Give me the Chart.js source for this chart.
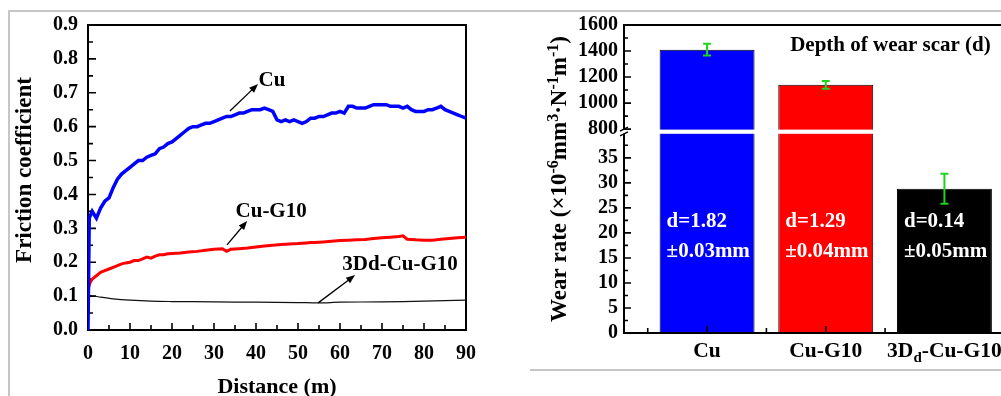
<!DOCTYPE html>
<html>
<head>
<meta charset="utf-8">
<script src="https://cdn.jsdelivr.net/npm/chart.js@4.4.1/dist/chart.umd.min.js"></script>
<style>
html, body { margin: 0; padding: 0; background: #fff; overflow: hidden; width: 1001px; height: 396px; }
canvas { position: absolute; top: 0; }
#friction { left: 0; }
#wear { left: 500px; }
.frame { position: absolute; background: #c6c6c6; }
</style>
</head>
<body>
<div class="frame" style="left:8px;top:10px;width:993px;height:2px"></div>
<div class="frame" style="left:8px;top:10px;width:2px;height:386px"></div>
<div class="frame" style="left:530px;top:369px;width:471px;height:2px"></div>
<canvas id="friction" width="500" height="396"></canvas>
<canvas id="wear" width="560" height="396"></canvas>
<script>
// ---- friction coefficient vs distance
let cuDist = [0, 0.3,
	1, 2, 3, 4, 5, 6, 7, 8, 9, 10,
	11, 12, 13, 14, 15, 16, 17, 18, 19, 20,
	21, 22, 23, 24, 25, 26, 27, 28, 29, 30,
	31, 32, 33, 34, 35, 36, 37, 38, 39, 40,
	41, 42, 43, 44, 45, 46, 47, 48, 49, 50,
	51, 52, 53, 54, 55, 56, 57, 58, 59, 60,
	61, 62, 63, 64, 65, 66, 67, 68, 69, 70,
	71, 72, 73, 74, 75, 76, 77, 78, 79, 80,
	81, 82, 83, 84, 85, 86, 87, 88, 89, 90];
let cuMu = [0.00, 0.33,
	0.35, 0.33, 0.36, 0.38, 0.39, 0.42, 0.445, 0.46, 0.47, 0.48,
	0.49, 0.50, 0.50, 0.51, 0.515, 0.52, 0.535, 0.54, 0.55, 0.555,
	0.565, 0.575, 0.585, 0.595, 0.60, 0.60, 0.605, 0.61, 0.61, 0.615,
	0.62, 0.625, 0.63, 0.63, 0.635, 0.64, 0.64, 0.645, 0.65, 0.65,
	0.65, 0.655, 0.65, 0.645, 0.62, 0.615, 0.62, 0.615, 0.62, 0.615,
	0.61, 0.615, 0.625, 0.625, 0.63, 0.63, 0.635, 0.64, 0.64, 0.645,
	0.64, 0.66, 0.66, 0.655, 0.655, 0.655, 0.66, 0.665, 0.665, 0.665,
	0.665, 0.66, 0.66, 0.66, 0.655, 0.66, 0.65, 0.645, 0.645, 0.645,
	0.65, 0.65, 0.655, 0.66, 0.65, 0.645, 0.64, 0.635, 0.63, 0.625];

let g10Dist = [0, 0.5, 1, 2, 3, 4, 5, 6, 7, 8, 9, 10, 11, 12, 13, 14, 15, 16, 17, 18, 19, 20,
	22, 24, 26, 28, 30, 32, 33, 34, 36, 38, 40, 42, 44, 46, 48, 50, 52, 53, 54,
	56, 58, 60, 62, 64, 66, 68, 70, 72, 74, 75, 76, 78, 80, 82, 84, 86, 88, 90];
let g10Mu = [0.12, 0.14, 0.15, 0.16, 0.17, 0.175, 0.18, 0.185, 0.19, 0.195, 0.198, 0.20, 0.205, 0.205, 0.21, 0.215, 0.212, 0.218, 0.222, 0.222, 0.225, 0.226,
	0.227, 0.23, 0.232, 0.235, 0.238, 0.24, 0.232, 0.238, 0.24, 0.242, 0.245, 0.248, 0.25, 0.252, 0.254, 0.255, 0.257, 0.258, 0.258,
	0.26, 0.262, 0.264, 0.265, 0.266, 0.267, 0.27, 0.272, 0.274, 0.276, 0.278, 0.268, 0.266, 0.265, 0.265, 0.268, 0.27, 0.272, 0.274];

let dDist = [0, 3, 6, 10, 15, 20, 30, 40, 50, 55, 60, 70, 80, 90];
let dMu = [0.103, 0.097, 0.092, 0.088, 0.085, 0.084, 0.083, 0.082, 0.081, 0.080, 0.082, 0.083, 0.085, 0.088];

let seriesNames = ['Cu', 'Cu-G10', '3Dd-Cu-G10'];

// ---- wear rate bars
let categories = ['Cu', 'Cu-G10', '3D_{d}-Cu-G10'];
let wearRate = [1410, 1140, 28.8];
let wearErr = [45, 30, 3];
let depthText = ['d=1.82', 'd=1.29', 'd=0.14'];
let depthErrText = ['±0.03mm', '±0.04mm', '±0.05mm'];
let lowTicks = [0, 5, 10, 15, 20, 25, 30, 35];
let highTicks = [800, 1000, 1200, 1400, 1600];
let breakLow = 40;
let breakHigh = 800;

const SERIF = '"Liberation Serif", "Times New Roman", serif';
const bold = (s) => ({family: SERIF, size: s, weight: 'bold'});

function parseRich(s) {
	let parts = [];
	let re = /([\^_])\{([^}]*)\}/g;
	let last = 0;
	let m;
	while ((m = re.exec(s))) {
		if (m.index > last) parts.push([s.slice(last, m.index), 0]);
		parts.push([m[2], m[1] === '^' ? 1 : -1]);
		last = re.lastIndex;
	}
	if (last < s.length) parts.push([s.slice(last), 0]);
	return parts;
}

// draws text with ^{sup} and _{sub} pieces, baseline at y
function drawRich(ctx, text, x, y, size, align) {
	let parts = parseRich(text);
	let small = Math.round(size * 0.7);
	let width = 0;
	for (let [t, k] of parts) {
		ctx.font = `bold ${k ? small : size}px ${SERIF}`;
		width += ctx.measureText(t).width;
	}
	let cx = align === 'center' ? x - width / 2 : x;
	ctx.textAlign = 'left';
	ctx.textBaseline = 'alphabetic';
	for (let [t, k] of parts) {
		ctx.font = `bold ${k ? small : size}px ${SERIF}`;
		let dy = k > 0 ? size * 0.36 : k < 0 ? -size * 0.25 : 0;
		ctx.fillText(t, cx, y - dy);
		cx += ctx.measureText(t).width;
	}
}

function arrow(ctx, x1, y1, x2, y2) {
	let ang = Math.atan2(y2 - y1, x2 - x1);
	ctx.beginPath();
	ctx.moveTo(x1, y1);
	ctx.lineTo(x2 - 6 * Math.cos(ang), y2 - 6 * Math.sin(ang));
	ctx.stroke();
	ctx.beginPath();
	ctx.moveTo(x2, y2);
	ctx.lineTo(x2 - 9 * Math.cos(ang) + 3.5 * Math.sin(ang), y2 - 9 * Math.sin(ang) - 3.5 * Math.cos(ang));
	ctx.lineTo(x2 - 9 * Math.cos(ang) - 3.5 * Math.sin(ang), y2 - 9 * Math.sin(ang) + 3.5 * Math.cos(ang));
	ctx.closePath();
	ctx.fill();
}

// label centre, arrow start, arrow tip (data units)
let notes = [
	{at: [43.8, 0.737], from: [33.8, 0.646], to: [40.5, 0.726]},
	{at: [43.6, 0.348], from: [33.1, 0.251], to: [37.9, 0.322]},
	{at: [74.3, 0.192], from: [54.8, 0.080], to: [63.6, 0.162]}
];

let frictionDecor = {
	id: 'frictionDecor',
	beforeDatasetsDraw(chart) {
		let {ctx, chartArea: a, scales: {x, y}} = chart;
		ctx.save();
		ctx.strokeStyle = '#000';
		ctx.lineWidth = 2;
		ctx.strokeRect(a.left, a.top, a.right - a.left, a.bottom - a.top);
		ctx.lineWidth = 1.6;
		ctx.beginPath();
		for (let i = 0; i <= 18; i++) {
			let py = y.getPixelForValue(i * 0.05);
			ctx.moveTo(a.left, py);
			ctx.lineTo(a.left + (i % 2 ? 5 : 8), py);
			let px = x.getPixelForValue(i * 5);
			ctx.moveTo(px, a.bottom);
			ctx.lineTo(px, a.bottom - (i % 2 ? 5 : 7));
		}
		ctx.stroke();
		ctx.restore();
	},
	afterDatasetsDraw(chart) {
		let {ctx, scales: {x, y}} = chart;
		ctx.save();
		ctx.strokeStyle = '#000';
		ctx.fillStyle = '#000';
		ctx.lineWidth = 1.3;
		notes.forEach((n, i) => {
			arrow(ctx, x.getPixelForValue(n.from[0]), y.getPixelForValue(n.from[1]),
				x.getPixelForValue(n.to[0]), y.getPixelForValue(n.to[1]));
			ctx.font = `bold 21px ${SERIF}`;
			ctx.textAlign = 'center';
			ctx.textBaseline = 'middle';
			ctx.fillText(seriesNames[i], x.getPixelForValue(n.at[0]), y.getPixelForValue(n.at[1]));
		});
		// y title
		ctx.translate(25, 170);
		ctx.rotate(-Math.PI / 2);
		ctx.font = `bold 23px ${SERIF}`;
		ctx.textAlign = 'center';
		ctx.textBaseline = 'middle';
		ctx.fillText('Friction coefficient', 0, 0);
		ctx.restore();
	}
};

new Chart(document.getElementById('friction'), {
	type: 'line',
	data: {
		datasets: [
			{label: seriesNames[0], data: cuDist.map((d, i) => ({x: d, y: cuMu[i]})),
				borderColor: '#0000ff', borderWidth: 3.5, pointRadius: 0, tension: 0},
			{label: seriesNames[1], data: g10Dist.map((d, i) => ({x: d, y: g10Mu[i]})),
				borderColor: '#ff0000', borderWidth: 3, pointRadius: 0, tension: 0},
			{label: seriesNames[2], data: dDist.map((d, i) => ({x: d, y: dMu[i]})),
				borderColor: '#111', borderWidth: 1.2, pointRadius: 0, tension: 0.3}
		]
	},
	options: {
		responsive: false,
		animation: false,
		devicePixelRatio: 1,
		layout: {padding: {top: 25, right: 34, left: 0, bottom: 0}},
		plugins: {legend: {display: false}, tooltip: {enabled: false}},
		scales: {
			x: {
				type: 'linear', min: 0, max: 90,
				afterFit: (s) => { s.height = 66; },
				grid: {display: false, drawTicks: false},
				border: {display: false},
				ticks: {stepSize: 10, padding: 12, color: '#000', font: bold(20)},
				title: {display: true, text: 'Distance (m)', color: '#000', padding: 0,
					font: {family: SERIF, size: 22, weight: 'bold', lineHeight: 0.75}}
			},
			y: {
				min: 0, max: 0.9,
				afterFit: (s) => { s.width = 88; },
				grid: {display: false, drawTicks: false},
				border: {display: false},
				ticks: {stepSize: 0.1, padding: 10, color: '#000', font: bold(20),
					callback: (v) => v.toFixed(1)}
			}
		}
	},
	plugins: [frictionDecor]
});

// ---- broken value axis: 0..40 below the break, 800..1600 above it
class BrokenScale extends Chart.LinearScale {
	buildTicks() {
		return lowTicks.concat(highTicks).map((v) => ({value: v}));
	}
	getPixelForValue(v) {
		let h = this.bottom - this.top;
		let lowH = h * 0.65;
		let highH = h * 0.338;
		let max = this.max;
		if (v <= breakLow) return this.bottom - v / breakLow * lowH;
		if (v >= breakHigh) return this.top + (max - v) / (max - breakHigh) * highH;
		return this.bottom - lowH - (v - breakLow) / (breakHigh - breakLow) * (h - lowH - highH);
	}
	getValueForPixel(p) {
		let h = this.bottom - this.top;
		let lowH = h * 0.65;
		if (p >= this.bottom - lowH) return (this.bottom - p) / lowH * breakLow;
		return this.max - (p - this.top) / (h * 0.338) * (this.max - breakHigh);
	}
}
BrokenScale.id = 'broken';
BrokenScale.defaults = Chart.LinearScale.defaults;
Chart.register(BrokenScale);

let wearDecor = {
	id: 'wearDecor',
	afterDatasetsDraw(chart) {
		let {ctx, chartArea: a, scales: {x, y}} = chart;
		let bars = chart.getDatasetMeta(0).data;
		let gTop = y.getPixelForValue(breakHigh);
		let gBot = y.getPixelForValue(breakLow);
		ctx.save();
		// white gap of the axis break
		ctx.fillStyle = '#fff';
		ctx.fillRect(a.left - 1, gTop + 0.5, a.right - a.left + 2, gBot - gTop + 0.5);

		// axes
		ctx.strokeStyle = '#000';
		ctx.lineWidth = 2;
		ctx.beginPath();
		ctx.moveTo(a.left, a.top);
		ctx.lineTo(a.right, a.top);
		ctx.lineTo(a.right, a.bottom);
		ctx.lineTo(a.left - 1, a.bottom);
		ctx.moveTo(a.left, a.bottom);
		ctx.lineTo(a.left, gBot + 1);
		ctx.moveTo(a.left, gTop);
		ctx.lineTo(a.left, a.top - 1);
		ctx.stroke();
		ctx.lineWidth = 1.5;
		ctx.beginPath();
		ctx.moveTo(a.left - 4, gTop + 2);
		ctx.lineTo(a.left + 4, gTop - 2);
		ctx.moveTo(a.left - 4, gBot + 3);
		ctx.lineTo(a.left + 4, gBot - 1);
		ctx.stroke();

		// inward ticks
		ctx.lineWidth = 1.6;
		ctx.beginPath();
		[lowTicks, highTicks].forEach((list) => {
			let step = list[1] - list[0];
			list.forEach((v) => {
				let py = y.getPixelForValue(v);
				ctx.moveTo(a.left, py);
				ctx.lineTo(a.left + 7, py);
				if (v + step / 2 < (list === lowTicks ? breakLow : y.max)) {
					py = y.getPixelForValue(v + step / 2);
					ctx.moveTo(a.left, py);
					ctx.lineTo(a.left + 4, py);
				}
			});
		});
		categories.forEach((c, i) => {
			let px = x.getPixelForValue(i + 1);
			ctx.moveTo(px, a.bottom);
			ctx.lineTo(px, a.bottom - 7);
			px = x.getPixelForValue(i + 0.5);
			ctx.moveTo(px, a.bottom);
			ctx.lineTo(px, a.bottom - 5);
		});
		ctx.stroke();

		// error bars
		ctx.strokeStyle = '#1fd41f';
		ctx.lineWidth = 2;
		bars.forEach((b, i) => {
			let hi = y.getPixelForValue(wearRate[i] + wearErr[i]);
			let lo = y.getPixelForValue(wearRate[i] - wearErr[i]);
			ctx.beginPath();
			ctx.moveTo(b.x, hi);
			ctx.lineTo(b.x, lo);
			ctx.moveTo(b.x - 4, hi);
			ctx.lineTo(b.x + 4, hi);
			ctx.moveTo(b.x - 4, lo);
			ctx.lineTo(b.x + 4, lo);
			ctx.stroke();
		});

		// depth labels inside bars
		ctx.fillStyle = '#fff';
		ctx.font = `bold 21px ${SERIF}`;
		ctx.textAlign = 'left';
		ctx.textBaseline = 'middle';
		bars.forEach((b, i) => {
			let lx = b.x - b.width / 2 + 7;
			ctx.fillText(depthText[i], lx, y.getPixelForValue(22.3));
			ctx.fillText(depthErrText[i], lx, y.getPixelForValue(16.3));
		});

		ctx.fillStyle = '#000';
		ctx.fillText('Depth of wear scar (d)', x.getPixelForValue(1.7), y.getPixelForValue(1440));

		// category labels
		categories.forEach((c, i) => {
			drawRich(ctx, c, x.getPixelForValue(i + 1), a.bottom + 24, 21.5, 'center');
		});

		// y title
		ctx.translate(66, (a.top + a.bottom) / 2);
		ctx.rotate(-Math.PI / 2);
		drawRich(ctx, 'Wear rate (×10^{-6}mm^{3}·N^{-1}m^{-1})', 0, 0, 23, 'center');
		ctx.restore();
	}
};

new Chart(document.getElementById('wear'), {
	type: 'bar',
	data: {
		datasets: [{
			data: categories.map((c, i) => ({x: i + 1, y: wearRate[i]})),
			backgroundColor: ['#0000ff', '#ff0000', '#000000'],
			borderColor: '#000',
			borderWidth: 1,
			barPercentage: 0.8,
			categoryPercentage: 1
		}]
	},
	options: {
		responsive: false,
		animation: false,
		devicePixelRatio: 1,
		layout: {padding: {top: 25, right: 32.5, left: 0, bottom: 0}},
		plugins: {legend: {display: false}, tooltip: {enabled: false}},
		scales: {
			x: {
				type: 'linear', min: 0.3, max: 3.7, offset: false,
				afterBuildTicks: (s) => { s.ticks = categories.map((c, i) => ({value: i + 1})); },
				afterFit: (s) => { s.height = 63; },
				grid: {display: false, drawTicks: false},
				border: {display: false},
				ticks: {display: false}
			},
			y: {
				type: 'broken', min: 0, max: 1600,
				afterFit: (s) => { s.width = 124; },
				grid: {display: false, drawTicks: false},
				border: {display: false},
				ticks: {padding: 6, autoSkip: false, color: '#000', font: bold(20),
					callback: (v) => String(v)}
			}
		}
	},
	plugins: [wearDecor]
});
</script>
</body>
</html>
